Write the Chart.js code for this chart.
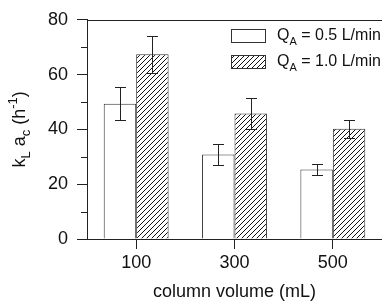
<!DOCTYPE html>
<html>
<head>
<meta charset="utf-8">
<script src="https://cdn.jsdelivr.net/npm/chart.js@4"></script>
<style>
  html, body { margin: 0; padding: 0; background: #fff; }
  canvas { display: block; }
</style>
</head>
<body>
<canvas id="chart" width="382" height="303"></canvas>
<script>
// column volumes (mL)
const categories = ['100', '300', '500'];
// kLac (1/h) at QA = 0.5 L/min
const flow05 = [49.4, 30.8, 25.4];
const flow05Err = [6.0, 3.7, 2.0];
// kLac (1/h) at QA = 1.0 L/min
const flow10 = [67.4, 45.8, 40.2];
const flow10Err = [6.8, 5.6, 3.4];
const yMajor = [0, 20, 40, 60, 80];
const yMinor = [10, 30, 50, 70];

const FONT = '"Liberation Sans", Arial, sans-serif';
const INK = '#222';

function hatch() {
  const c = document.createElement('canvas');
  c.width = 5; c.height = 5;
  const g = c.getContext('2d');
  g.fillStyle = '#fff';
  g.fillRect(0, 0, 5, 5);
  g.strokeStyle = '#111';
  g.lineWidth = 1;
  g.beginPath();
  g.moveTo(0, 5); g.lineTo(5, 0);
  g.moveTo(-1, 1); g.lineTo(1, -1);
  g.moveTo(4, 6); g.lineTo(6, 4);
  g.stroke();
  return g.createPattern(c, 'repeat');
}
const hatchFill = hatch();

// draw text pieces with sub/superscripts, left aligned at x, middle at y
function richWidth(ctx, parts, size) {
  let w = 0;
  parts.forEach(p => {
    ctx.font = (p.sub || p.sup ? Math.round(size * 0.7) : size) + 'px ' + FONT;
    w += ctx.measureText(p.t).width;
  });
  return w;
}
function drawRich(ctx, parts, x, y, size) {
  ctx.textBaseline = 'middle';
  ctx.textAlign = 'left';
  parts.forEach(p => {
    const s = p.sub || p.sup ? Math.round(size * 0.7) : size;
    ctx.font = s + 'px ' + FONT;
    const dy = p.sub ? size * 0.35 : p.sup ? -size * 0.35 : 0;
    ctx.fillText(p.t, x, y + dy);
    x += ctx.measureText(p.t).width;
  });
}

const extras = {
  id: 'extras',
  afterDatasetsDraw(chart) {
    const ctx = chart.ctx;
    const ys = chart.scales.y;
    const area = chart.chartArea;
    ctx.save();
    ctx.strokeStyle = INK;
    ctx.lineWidth = 1;

    // error bars
    [flow05Err, flow10Err].forEach((errs, di) => {
      const vals = chart.data.datasets[di].data;
      chart.getDatasetMeta(di).data.forEach((bar, i) => {
        const x = Math.round(bar.x) + 0.5;
        const t = Math.round(ys.getPixelForValue(vals[i] + errs[i])) + 0.5;
        const b = Math.round(ys.getPixelForValue(vals[i] - errs[i])) + 0.5;
        ctx.beginPath();
        ctx.moveTo(x, t); ctx.lineTo(x, b);
        ctx.moveTo(x - 5.5, t); ctx.lineTo(x + 5.5, t);
        ctx.moveTo(x - 5.5, b); ctx.lineTo(x + 5.5, b);
        ctx.stroke();
      });
    });

    // top frame line
    const top = Math.round(area.top) + 0.5;
    ctx.beginPath();
    ctx.moveTo(area.left, top); ctx.lineTo(area.right, top);
    ctx.stroke();

    // minor y ticks
    yMinor.forEach(v => {
      const y = Math.round(ys.getPixelForValue(v)) + 0.5;
      ctx.beginPath();
      ctx.moveTo(area.left - 6, y); ctx.lineTo(area.left, y);
      ctx.stroke();
    });

    // legend
    const items = [
      { fill: '#fff', parts: [{ t: 'Q' }, { t: 'A', sub: true }, { t: ' = 0.5 L/min' }] },
      { fill: hatchFill, parts: [{ t: 'Q' }, { t: 'A', sub: true }, { t: ' = 1.0 L/min' }] }
    ];
    items.forEach((it, i) => {
      const by = 29.5 + i * 26;
      ctx.fillStyle = it.fill;
      ctx.fillRect(231, by, 34, 13);
      ctx.strokeStyle = '#333';
      ctx.strokeRect(231.5, by, 34, 13);
      ctx.fillStyle = '#111';
      drawRich(ctx, it.parts, 277, by + 6.5, 16);
    });

    // y axis title
    const tparts = [{ t: 'k' }, { t: 'L', sub: true }, { t: ' a' }, { t: 'c', sub: true },
                    { t: ' (h' }, { t: '-1', sup: true }, { t: ')' }];
    ctx.translate(20, (area.top + area.bottom) / 2);
    ctx.rotate(-Math.PI / 2);
    const w = richWidth(ctx, tparts, 18);
    drawRich(ctx, tparts, -w / 2, 0, 18);
    ctx.restore();
  }
};

new Chart(document.getElementById('chart'), {
  type: 'bar',
  data: {
    labels: categories,
    datasets: [
      { label: 'QA = 0.5 L/min', data: flow05, backgroundColor: '#fff', borderColor: '#333', borderWidth: 1 },
      { label: 'QA = 1.0 L/min', data: flow10, backgroundColor: hatchFill, borderColor: '#333', borderWidth: 1 }
    ]
  },
  options: {
    responsive: false,
    animation: false,
    devicePixelRatio: 1,
    layout: { padding: { left: 0, top: 17, right: 0, bottom: 0 } },
    datasets: { bar: { categoryPercentage: 0.66, barPercentage: 1 } },
    plugins: { legend: { display: false }, tooltip: { enabled: false } },
    scales: {
      x: {
        offset: true,
        afterFit: s => { s.height = 64; },
        grid: { drawOnChartArea: false, offset: false, tickLength: 10, color: INK },
        border: { color: INK },
        ticks: { color: '#111', font: { family: FONT, size: 18 }, padding: 3, maxRotation: 0 },
        title: { display: true, text: 'column volume (mL)', color: '#111',
                 font: { family: FONT, size: 18 }, padding: { top: 0, bottom: 0 } }
      },
      y: {
        min: 0, max: 80,
        afterFit: s => { s.width = 87; },
        afterBuildTicks: s => { s.ticks = yMajor.map(v => ({ value: v })); },
        grid: { drawOnChartArea: false, tickLength: 10, color: INK },
        border: { color: INK },
        ticks: { color: '#111', font: { family: FONT, size: 18 }, padding: 9 }
      }
    }
  },
  plugins: [extras]
});
</script>
</body>
</html>
